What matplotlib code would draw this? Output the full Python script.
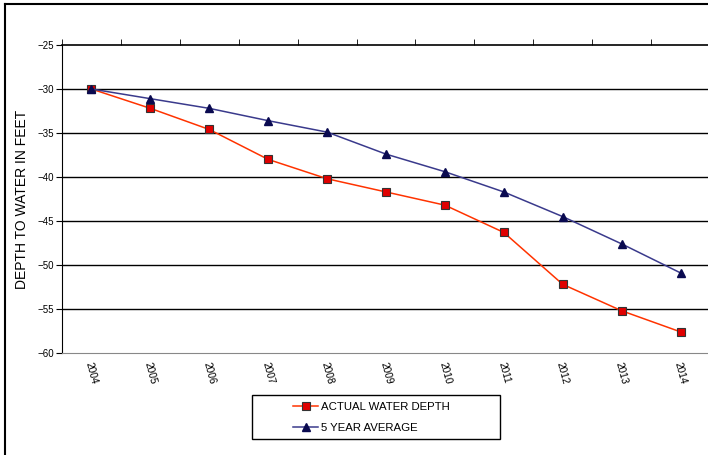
import numpy as np
import matplotlib.pyplot as plt
from matplotlib.lines import Line2D
from matplotlib.patches import Rectangle

plt.rcParams['font.family'] = ['Liberation Sans', 'DejaVu Sans']

# data
years = ['2004', '2005', '2006', '2007', '2008', '2009',
         '2010', '2011', '2012', '2013', '2014']
actual_depth = [-30.0, -32.2, -34.6, -38.0, -40.2, -41.7,
                -43.2, -46.3, -52.2, -55.2, -57.6]
five_year_avg = [-30.0, -31.1, -32.2, -33.6, -34.9, -37.4,
                 -39.4, -41.7, -44.5, -47.6, -50.9]

W, H = 708, 455
fig = plt.figure(figsize=(W / 100, H / 100), dpi=100)
ax = fig.add_axes([62 / W, 1 - 353 / H, 648 / W, 308 / H])

x = np.arange(len(years))

# gridlines
for v in range(-55, -25, 5):
    ax.axhline(v, color='black', linewidth=1.0, zorder=1)

ax.plot(x, actual_depth, color='#ff3300', linewidth=1.1, marker='s',
        markersize=6, markerfacecolor='#e00000', markeredgecolor='#333333',
        markeredgewidth=0.8, label='ACTUAL WATER DEPTH', zorder=3)
ax.plot(x, five_year_avg, color='#3a3a8c', linewidth=1.1, marker='^',
        markersize=6, markerfacecolor='#0a0a50', markeredgecolor='#0a0a50',
        label='5 YEAR AVERAGE', zorder=3)

ax.set_xlim(-0.5, len(years) - 0.5)
ax.set_ylim(-60, -25)
ax.set_yticks(range(-60, -24, 5))
ax.tick_params(axis='y', direction='out', length=4, labelsize=7, pad=2)

ax.set_xticks(x)
ax.set_xticklabels(years, rotation=-75, fontsize=7.3, ha='center', va='top')
ax.set_xticks(np.arange(-0.5, len(years)), minor=True)
ax.tick_params(axis='x', which='major', bottom=False, top=False, pad=2)
ax.tick_params(axis='x', which='minor', bottom=False, top=True,
               direction='out', length=4)

ax.set_ylabel('DEPTH TO WATER IN FEET', fontsize=10, labelpad=6)

ax.spines['right'].set_visible(False)
ax.spines['bottom'].set_color('#888888')
ax.spines['top'].set_linewidth(1.2)

# legend entries, box drawn separately
leg = ax.legend(loc='upper left', bbox_to_anchor=(293 / W, 1 - 402 / H),
                bbox_transform=fig.transFigure, fontsize=8.2, frameon=False,
                handlelength=2.2, borderpad=0, labelspacing=0.95,
                borderaxespad=0, handletextpad=0.3)
fig.add_artist(Rectangle((252 / W, 1 - 439 / H), 248 / W, 44 / H,
                         transform=fig.transFigure, fill=False,
                         edgecolor='black', linewidth=1.0))

# outer chart frame (left and top edges)
fig.add_artist(Line2D([5 / W, 5 / W], [0, 1 - 4 / H], color='black',
                      linewidth=1.5, transform=fig.transFigure))
fig.add_artist(Line2D([5 / W, 1], [1 - 4 / H, 1 - 4 / H], color='black',
                      linewidth=1.5, transform=fig.transFigure))

fig.savefig('out.png', dpi=100)
